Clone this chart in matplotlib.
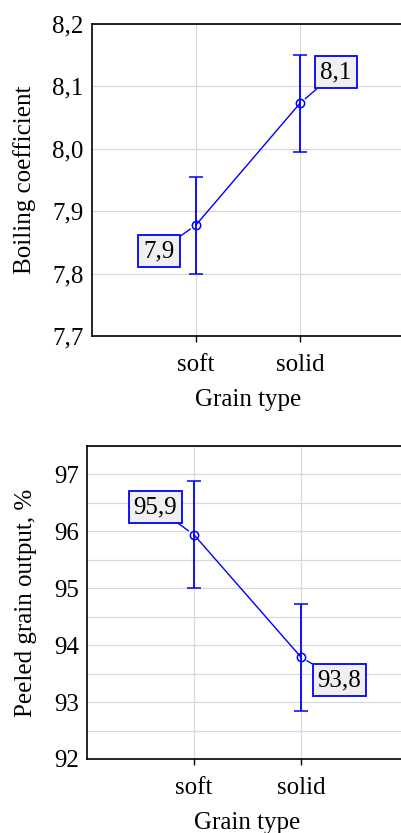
import matplotlib
matplotlib.use("Agg")
import matplotlib.pyplot as plt
from matplotlib.ticker import FuncFormatter, MultipleLocator

plt.rcParams["font.family"] = ["Liberation Serif", "DejaVu Serif"]

grain_types = ["soft", "solid"]

boiling_mean = [7.878, 8.073]
boiling_low = [7.800, 7.995]
boiling_high = [7.955, 8.150]

peeled_mean = [95.94, 93.79]
peeled_low = [95.01, 92.85]
peeled_high = [96.89, 94.73]

BLUE = "#0000ff"


def mean_plot(ax, means, lows, highs, offsets, ylim, major, grid_step, decimals, ylabel):
    x = [1, 2]
    err = [[m - lo for m, lo in zip(means, lows)], [hi - m for m, hi in zip(means, highs)]]
    ax.errorbar(x, means, yerr=err, color=BLUE, lw=1, elinewidth=1.3, capsize=5,
                capthick=1.3, marker="o", ms=6, mfc="none", mec=BLUE, mew=1.1, zorder=3)

    for xi, m, off in zip(x, means, offsets):
        ax.annotate(f"{m:.1f}".replace(".", ","), xy=(xi, m), xytext=off,
                    textcoords="offset points", ha="center", va="center", fontsize=18,
                    bbox=dict(boxstyle="square,pad=0.2", fc="#f0f0f0", ec=BLUE, lw=1.3),
                    arrowprops=dict(arrowstyle="-", color=BLUE, lw=1, shrinkA=0, shrinkB=5),
                    zorder=4)

    ax.set_xlim(0, 3)
    ax.set_ylim(*ylim)
    ax.set_xticks(x)
    ax.set_xticklabels(grain_types)
    ax.yaxis.set_major_locator(MultipleLocator(major))
    ax.yaxis.set_minor_locator(MultipleLocator(grid_step))
    ax.yaxis.set_major_formatter(FuncFormatter(lambda v, p: f"{v:.{decimals}f}".replace(".", ",")))
    ax.grid(True, which="both", axis="y", color="#d9d9d9", lw=0.9)
    ax.grid(True, which="major", axis="x", color="#d9d9d9", lw=0.9)
    ax.set_axisbelow(True)
    ax.tick_params(axis="y", which="both", length=0, labelsize=18, pad=6)
    ax.tick_params(axis="x", length=4, width=1, labelsize=18, pad=9)
    for s in ax.spines.values():
        s.set_linewidth(1.2)
    ax.set_xlabel("Grain type", fontsize=18, labelpad=9)
    ax.set_ylabel(ylabel, fontsize=18, labelpad=12)


fig = plt.figure(figsize=(4.01, 8.33), dpi=100)
ax1 = fig.add_axes([92 / 401, (833 - 336) / 833, 312 / 401, 312 / 833])
ax2 = fig.add_axes([87 / 401, (833 - 759) / 833, 321 / 401, 313 / 833])

mean_plot(ax1, boiling_mean, boiling_low, boiling_high,
          [(-26.6, -19.1), (25.9, 22.2)], (7.7, 8.2), 0.1, 0.1, 1, "Boiling coefficient")
mean_plot(ax2, peeled_mean, peeled_low, peeled_high,
          [(-27.7, 20.0), (27.7, -16.7)], (92, 97.5), 1, 0.5, 0, "Peeled grain output, %")
ax2.set_yticks([92, 93, 94, 95, 96, 97])

fig.savefig("out.png", dpi=100)
